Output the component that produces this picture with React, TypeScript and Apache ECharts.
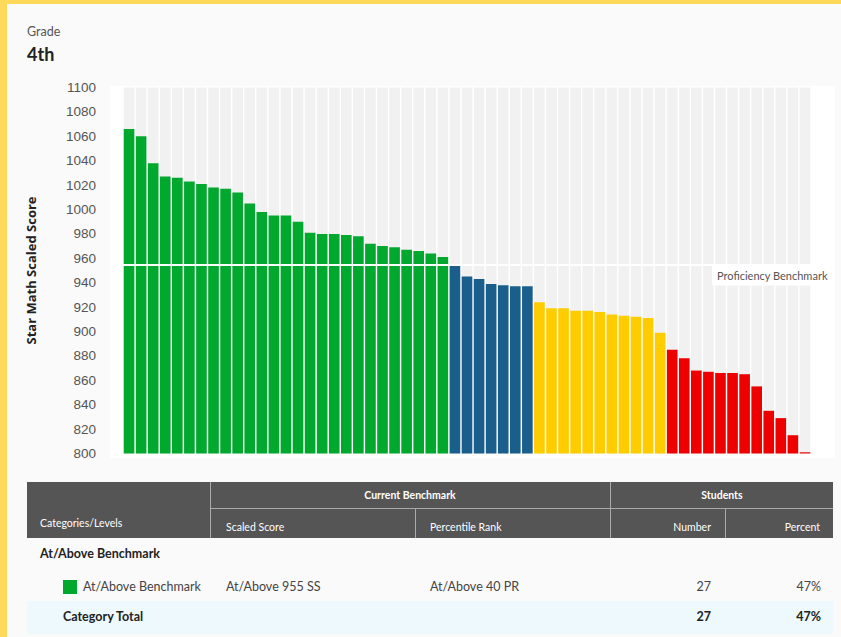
import React, { useEffect, useRef } from "react";
import * as echarts from "echarts";

// Scores per performance level (sorted high to low as in the report)
const atAboveScores = [1066, 1060, 1038, 1027, 1026, 1023, 1021, 1018, 1017, 1014, 1005, 998, 995, 995, 990, 981, 980, 980, 979, 978, 972, 970, 969, 967, 966, 964, 961];
const onWatchScores = [954, 945, 943, 939, 938, 937, 937];
const interventionScores = [924, 919, 919, 917, 917, 916, 914, 913, 912, 911, 899];
const urgentScores = [885, 878, 868, 867, 866, 866, 865, 855, 835, 829, 815, 801];
const benchmark = 955;
const yTicks = { min: 800, max: 1100, step: 20 };

const colors = { atAbove: "#00a82d", onWatch: "#1a5f8c", intervention: "#ffcc00", urgent: "#ee0000" };

const tableFont = "Lato, 'Open Sans', sans-serif";

function T(props: { x: number; y: number; children: React.ReactNode; size?: number; bold?: boolean; color?: string; align?: "left" | "right" | "center"; w?: number }) {
  const { x, y, size = 12.5, bold = false, color = "#444", align = "left", w = 200 } = props;
  let left = x;
  if (align === "right") left = x - w;
  if (align === "center") left = x - w / 2;
  return (
    <div
      style={{
        position: "absolute",
        left,
        top: y - size * 0.7,
        width: w,
        textAlign: align,
        fontSize: size,
        lineHeight: `${size * 1.4}px`,
        fontWeight: bold ? 700 : 400,
        color,
        fontFamily: tableFont,
        whiteSpace: "nowrap",
      }}
    >
      {props.children}
    </div>
  );
}

function Box(props: { x: number; y: number; w: number; h: number; bg: string }) {
  return <div style={{ position: "absolute", left: props.x, top: props.y, width: props.w, height: props.h, background: props.bg }} />;
}

export default function App() {
  const ref = useRef<HTMLDivElement>(null);

  useEffect(() => {
    const chart = echarts.init(ref.current!, null, { renderer: "svg" });
    const groups = [
      { values: atAboveScores, color: colors.atAbove },
      { values: onWatchScores, color: colors.onWatch },
      { values: interventionScores, color: colors.intervention },
      { values: urgentScores, color: colors.urgent },
    ];
    const data = groups.flatMap((g) => g.values.map((v) => ({ value: v, itemStyle: { color: g.color } })));
    const categories = data.map((_, i) => `Student ${i + 1}`);

    chart.setOption({
      animation: false,
      grid: { left: 123, right: 30, top: 87.5, height: 366 },
      xAxis: { type: "category", data: categories, show: false },
      yAxis: {
        type: "value",
        min: yTicks.min,
        max: yTicks.max,
        interval: yTicks.step,
        name: "Star Math Scaled Score",
        nameLocation: "middle",
        nameGap: 86,
        nameTextStyle: { fontSize: 13, fontWeight: "bold", color: "#222", fontFamily: "'Open Sans', sans-serif" },
        axisLine: { show: false },
        axisTick: { show: false },
        splitLine: { show: false },
        axisLabel: {
          color: "#555",
          fontSize: 13.5,
          margin: 27,
          fontFamily: "'Liberation Sans', Arial, sans-serif",
          formatter: (v: number) => String(v),
        },
      },
      graphic: [
        { type: "rect", z: -10, shape: { x: 110, y: 86, width: 725, height: 372 }, style: { fill: "#ffffff" } },
        {
          type: "text",
          z: 100,
          x: 712,
          y: 275,
          style: {
            text: "Proficiency Benchmark",
            fontSize: 11,
            fontFamily: "Lato, sans-serif",
            fill: "#555",
            verticalAlign: "middle",
            backgroundColor: "#ffffff",
            padding: [5, 4, 5, 5],
          },
        },
      ],
      series: [
        {
          type: "bar",
          data,
          barCategoryGap: "12%",
          showBackground: true,
          backgroundStyle: { color: "#f1f1f1" },
          markLine: {
            silent: true,
            symbol: "none",
            data: [{ yAxis: benchmark }],
            lineStyle: { color: "#ffffff", width: 2, type: "solid" },
            label: { show: false },
          },
        },
      ],
    });
    return () => chart.dispose();
  }, []);

  return (
    <div style={{ position: "fixed", left: 0, top: 0, width: 841, height: 637, background: "#ffd95a", overflow: "hidden" }}>
      <div style={{ position: "absolute", left: 7, top: 4, right: 0, bottom: 0, background: "#fafafa" }} />
      <div ref={ref} style={{ position: "absolute", left: 0, top: 0, width: 841, height: 470 }} />
      <T x={27} y={32} size={12.5} color="#555">Grade</T>
      <T x={27} y={55} size={18} bold color="#222">4th</T>

      {/* Table header */}
      <Box x={27} y={482} w={806} h={56} bg="#555555" />
      <Box x={210} y={482} w={1} h={56} bg="#aaaaaa" />
      <Box x={610} y={482} w={1} h={56} bg="#aaaaaa" />
      <Box x={210} y={508} w={623} h={1} bg="#aaaaaa" />
      <Box x={415} y={509} w={1} h={29} bg="#aaaaaa" />
      <Box x={725} y={509} w={1} h={29} bg="#aaaaaa" />
      <T x={40} y={523} size={10.5} color="#fff">Categories/Levels</T>
      <T x={410} y={495} size={10.5} bold color="#fff" align="center">Current Benchmark</T>
      <T x={722} y={495} size={10.5} bold color="#fff" align="center">Students</T>
      <T x={226} y={527} size={10.5} color="#fff">Scaled Score</T>
      <T x={430} y={527} size={10.5} color="#fff">Percentile Rank</T>
      <T x={711} y={527} size={10.5} color="#fff" align="right">Number</T>
      <T x={820} y={527} size={10.5} color="#fff" align="right">Percent</T>

      {/* Body */}
      <T x={40} y={554} size={12.5} bold color="#222">At/Above Benchmark</T>
      <Box x={63} y={580} w={14} h={14} bg={colors.atAbove} />
      <T x={83} y={587} size={12.5}>At/Above Benchmark</T>
      <T x={226} y={587} size={12.5}>At/Above 955 SS</T>
      <T x={430} y={587} size={12.5}>At/Above 40 PR</T>
      <T x={711} y={587} size={12.5} align="right">27</T>
      <T x={821} y={587} size={12.5} align="right">47%</T>

      <Box x={27} y={601} w={806} h={33} bg="#eef9fd" />
      <T x={63} y={617} size={12.5} bold color="#222">Category Total</T>
      <T x={711} y={617} size={12.5} bold color="#222" align="right">27</T>
      <T x={821} y={617} size={12.5} bold color="#222" align="right">47%</T>
    </div>
  );
}
